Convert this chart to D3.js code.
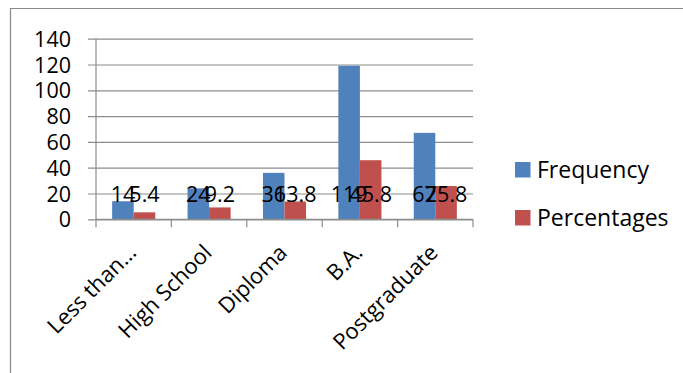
<!DOCTYPE html>
<html>
<head>
<meta charset="utf-8">
<script src="https://cdn.jsdelivr.net/npm/d3@7"></script>
<style>
  html, body { margin: 0; padding: 0; background: #fff; }
  svg { display: block; font-family: "Open Sans", sans-serif; }
</style>
</head>
<body>
<svg id="chart" width="683" height="373"></svg>
<script>
// Education level of respondents: counts and share of total
const categories = ["Less than…", "High School", "Diploma", "B.A.", "Postgraduate"];
const frequency = [14, 24, 36, 119, 67];
const percentages = [5.4, 9.2, 13.8, 45.8, 25.8];
const seriesNames = ["Frequency", "Percentages"];
const seriesColors = ["#4F81BD", "#C0504D"];
const yTicks = [0, 20, 40, 60, 80, 100, 120, 140];

const svg = d3.select("#chart");
const plot = { left: 96, right: 473, top: 38.7, bottom: 219.3 };

// chart frame
svg.append("path")
  .attr("d", "M10.5,373 V8.5 H683")
  .attr("fill", "none")
  .attr("stroke", "#8a8a8a")
  .attr("stroke-width", 1.2);

const x = d3.scaleBand()
  .domain(categories)
  .range([plot.left, plot.right])
  .paddingInner(0)
  .paddingOuter(0);

const y = d3.scaleLinear()
  .domain([0, 140])
  .range([plot.bottom, plot.top]);

const barW = x.bandwidth() / 3.5;

// horizontal gridlines with outside tick marks
const yAxis = d3.axisLeft(y)
  .tickValues(yTicks)
  .tickSize(-(plot.right - plot.left))
  .tickSizeOuter(0)
  .tickFormat(d3.format("d"));

const gy = svg.append("g")
  .attr("transform", `translate(${plot.left},0)`)
  .call(yAxis);
gy.select(".domain").remove();
gy.selectAll(".tick line")
  .attr("x1", -8)
  .attr("stroke", "#8c8c8c")
  .attr("stroke-width", 1.2);
gy.selectAll(".tick text")
  .attr("x", -25)
  .attr("dy", "0.35em")
  .attr("font-size", 21.5)
  .attr("font-family", "'Open Sans', sans-serif")
  .attr("fill", "#000");

// vertical axis line
svg.append("line")
  .attr("x1", plot.left).attr("x2", plot.left)
  .attr("y1", plot.top).attr("y2", plot.bottom)
  .attr("stroke", "#8c8c8c")
  .attr("stroke-width", 1.2);

// bars
const series = [frequency, percentages];
series.forEach((vals, si) => {
  svg.append("g")
    .selectAll("rect")
    .data(vals)
    .join("rect")
    .attr("x", (d, i) => x(categories[i]) + x.bandwidth() / 2 - barW + si * barW)
    .attr("y", d => y(d))
    .attr("width", barW)
    .attr("height", d => y(0) - y(d))
    .attr("fill", seriesColors[si]);
});

// horizontal axis line with ticks at category boundaries
svg.append("line")
  .attr("x1", plot.left).attr("x2", plot.right)
  .attr("y1", plot.bottom).attr("y2", plot.bottom)
  .attr("stroke", "#8c8c8c")
  .attr("stroke-width", 1.2);
const bounds = categories.map(c => x(c)).concat([plot.right]);
svg.append("g")
  .selectAll("line")
  .data(bounds)
  .join("line")
  .attr("x1", d => d).attr("x2", d => d)
  .attr("y1", plot.bottom).attr("y2", plot.bottom + 8)
  .attr("stroke", "#8c8c8c")
  .attr("stroke-width", 1.2);

// data labels at the base of each bar
series.forEach((vals, si) => {
  svg.append("g")
    .selectAll("text")
    .data(vals)
    .join("text")
    .attr("x", (d, i) => x(categories[i]) + x.bandwidth() / 2 - barW / 2 + si * barW)
    .attr("y", y(0) - 17.6)
    .attr("text-anchor", "middle")
    .attr("font-size", 21.5)
    .attr("fill", "#000")
    .text(d => d);
});

// rotated category labels
svg.append("g")
  .selectAll("text")
  .data(categories)
  .join("text")
  .attr("transform", d => `translate(${x(d) + x.bandwidth() / 2 + 4},254) rotate(-45)`)
  .attr("text-anchor", "end")
  .attr("font-size", 22)
  .attr("fill", "#000")
  .text(d => d);

// legend
const legend = svg.append("g");
seriesNames.forEach((name, i) => {
  const ly = 162 + i * 48;
  legend.append("rect")
    .attr("x", 515).attr("y", ly)
    .attr("width", 15.5).attr("height", 15.5)
    .attr("fill", seriesColors[i]);
  legend.append("text")
    .attr("x", 537).attr("y", ly + 7.75)
    .attr("dy", "0.35em")
    .attr("font-size", 23)
    .attr("fill", "#000")
    .text(name);
});
</script>
</body>
</html>
